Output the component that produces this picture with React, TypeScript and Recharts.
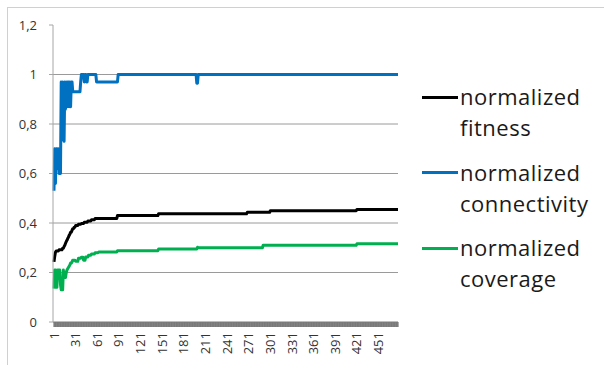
import React from 'react';
import { LineChart, Line, XAxis, YAxis, CartesianGrid, Legend } from 'recharts';

// ---- data ----
const categoryCount = 478;
const xTickLabels = [1, 31, 61, 91, 121, 151, 181, 211, 241, 271, 301, 331, 361, 391, 421, 451];
const yTicks = [0, 0.2, 0.4, 0.6, 0.8, 1, 1.2];
const gridValues = [0.2, 0.4, 0.6, 0.8, 1];

const seriesNames = ['normalized fitness', 'normalized connectivity', 'normalized coverage'];
const seriesColors = ['#000000', '#0070C0', '#00B050'];

// runs: [last category of the run, value]
const fitnessRuns: [number, number][] = [
  [1, 0.243], [2, 0.265], [3, 0.282], [7, 0.287], [12, 0.292], [14, 0.298], [15, 0.305],
  [16, 0.31], [17, 0.318], [18, 0.325], [19, 0.33], [20, 0.337], [21, 0.342], [22, 0.35],
  [23, 0.355], [25, 0.363], [26, 0.37], [28, 0.377], [30, 0.383], [34, 0.39], [38, 0.395],
  [42, 0.398], [47, 0.403], [52, 0.408], [57, 0.413], [88, 0.418], [145, 0.43], [268, 0.437],
  [300, 0.443], [420, 0.45], [478, 0.455],
];

const connectivityRuns: [number, number][] = [
  [1, 0.53], [2, 0.7], [3, 0.56], [5, 0.7], [6, 0.62], [7, 0.7], [10, 0.6], [11, 0.97],
  [12, 0.8], [13, 0.97], [14, 0.74], [15, 0.73], [16, 0.97], [17, 0.86], [18, 0.97],
  [19, 0.87], [21, 0.97], [22, 0.87], [23, 0.97], [24, 0.87], [26, 0.97], [37, 0.93],
  [38, 0.97], [42, 1.0], [43, 0.97], [45, 1.0], [47, 0.97], [59, 1.0], [89, 0.97],
  [198, 1.0], [200, 0.965], [478, 1.0],
];

const coverageRuns: [number, number][] = [
  [1, 0.135], [3, 0.21], [5, 0.14], [9, 0.21], [10, 0.15], [13, 0.13], [14, 0.21], [15, 0.18],
  [16, 0.19], [17, 0.18], [18, 0.2], [19, 0.21], [20, 0.215], [21, 0.22], [22, 0.225],
  [23, 0.23], [25, 0.238], [26, 0.242], [30, 0.25], [34, 0.245], [38, 0.258], [41, 0.262],
  [44, 0.25], [48, 0.263], [52, 0.27], [57, 0.275], [62, 0.28], [88, 0.283], [145, 0.288],
  [199, 0.295], [200, 0.302], [290, 0.3], [420, 0.31], [478, 0.316],
];

function expandRuns(runs: [number, number][]): number[] {
  const out: number[] = [];
  let start = 1;
  for (const [last, v] of runs) {
    for (let i = start; i <= last; i++) out.push(v);
    start = last + 1;
  }
  return out;
}

const categories = Array.from({ length: categoryCount }, (_, i) => i + 1);
const fitness = expandRuns(fitnessRuns);
const connectivity = expandRuns(connectivityRuns);
const coverage = expandRuns(coverageRuns);

const data = categories.map((c, i) => ({
  cat: c,
  fitness: fitness[i],
  connectivity: connectivity[i],
  coverage: coverage[i],
}));

const FONT = '"Open Sans", sans-serif';

const XTick = (props: any) => {
  const { x, y, payload } = props;
  if (!xTickLabels.includes(payload.value)) return <g />;
  return (
    <text
      x={x}
      y={y}
      transform={`rotate(-90 ${x} ${y})`}
      textAnchor="end"
      dy="0.35em"
      fontSize={13}
      fontFamily={FONT}
      fill="#333"
    >
      {payload.value}
    </text>
  );
};

const renderLegend = (props: any) => {
  const payload = [...(props.payload || [])].sort(
    (a: any, b: any) => seriesNames.indexOf(String(a.value)) - seriesNames.indexOf(String(b.value))
  );
  return (
    <div
      style={{
        position: 'relative',
        width: 185,
        height: 240,
        fontFamily: FONT,
        fontSize: 22,
        letterSpacing: 0.5,
        color: '#1a1a1a',
      }}
    >
      {payload.map((p: any, i: number) => {
        const words = String(p.value).split(' ');
        return (
          <div key={i} style={{ position: 'absolute', left: 0, top: i * 75.5 }}>
            <div style={{ position: 'absolute', left: 0, top: 14.5, width: 36, height: 3, background: p.color }} />
            <div style={{ position: 'absolute', left: 38, top: 0, lineHeight: '31px', whiteSpace: 'nowrap' }}>
              {words[0]}
              <br />
              {words.slice(1).join(' ')}
            </div>
          </div>
        );
      })}
    </div>
  );
};

export default function App() {
  return (
    <div
      style={{
        position: 'absolute',
        left: 7,
        top: 7,
        width: 600,
        height: 370,
        borderLeft: '1px solid #d0d0d0',
        borderTop: '1px solid #d0d0d0',
        background: '#fff',
      }}
    >
      <LineChart
        width={596}
        height={357}
        data={data}
        margin={{ top: 17, right: 206, left: 0, bottom: 3 }}
      >
        <CartesianGrid vertical={false} horizontalValues={gridValues} stroke="#9a9a9a" />
        <XAxis
          dataKey="cat"
          type="category"
          interval={0}
          height={40}
          tickSize={5}
          tickMargin={5}
          padding={{ left: 1, right: 0 }}
          axisLine={{ stroke: '#7a7a7a' }}
          tickLine={{ stroke: '#7a7a7a', strokeWidth: 1.2 }}
          tick={<XTick />}
        />
        <YAxis
          type="number"
          domain={[0, 1.2]}
          ticks={yTicks}
          interval={0}
          width={45}
          tickSize={4}
          tickMargin={12}
          axisLine={{ stroke: '#a6a6a6' }}
          tickLine={{ stroke: '#a6a6a6' }}
          tick={{ fontSize: 13, fill: '#333', fontFamily: FONT }}
          tickFormatter={(v: number) => String(v).replace('.', ',')}
        />
        <Legend
          layout="horizontal"
          align="center"
          verticalAlign="middle"
          wrapperStyle={{ left: 414, top: 73, width: 185, height: 240 }}
          content={renderLegend}
        />
        <Line
          type="linear"
          dataKey="fitness"
          name={seriesNames[0]}
          stroke={seriesColors[0]}
          strokeWidth={3}
          dot={false}
          strokeLinejoin="round"
          isAnimationActive={false}
        />
        <Line
          type="linear"
          dataKey="connectivity"
          name={seriesNames[1]}
          stroke={seriesColors[1]}
          strokeWidth={3}
          dot={false}
          strokeLinejoin="round"
          isAnimationActive={false}
        />
        <Line
          type="linear"
          dataKey="coverage"
          name={seriesNames[2]}
          stroke={seriesColors[2]}
          strokeWidth={3}
          dot={false}
          strokeLinejoin="round"
          isAnimationActive={false}
        />
      </LineChart>
    </div>
  );
}
